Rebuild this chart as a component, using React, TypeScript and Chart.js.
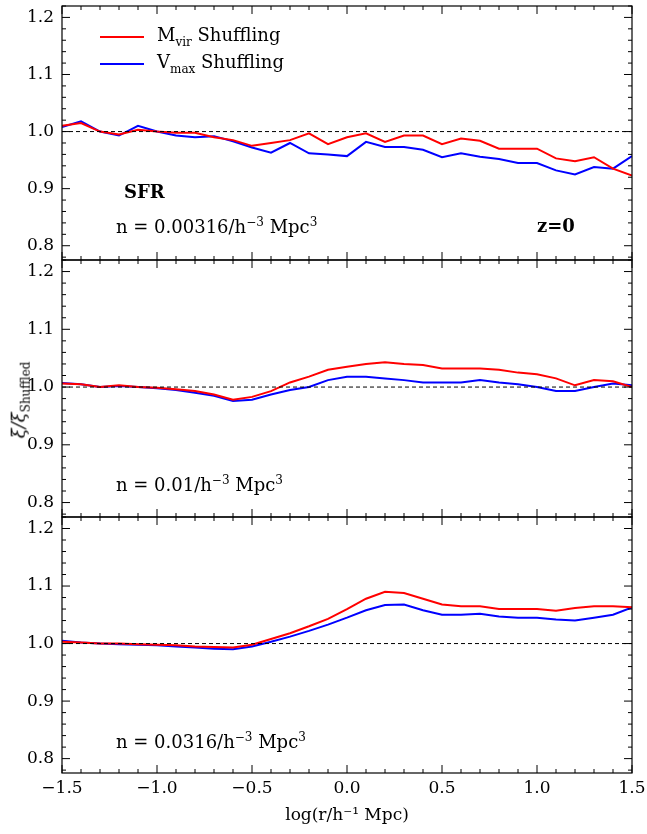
import React, { useEffect, useRef } from "react";
import Chart from "chart.js/auto";

const xs = [-1.5,-1.4,-1.3,-1.2,-1.1,-1.0,-0.9,-0.8,-0.7,-0.6,-0.5,-0.4,-0.3,-0.2,-0.1,0,0.1,0.2,0.3,0.4,0.5,0.6,0.7,0.8,0.9,1.0,1.1,1.2,1.3,1.4,1.5];

const topMvir = [1.01,1.015,1.0,0.995,1.003,1.0,0.998,0.998,0.99,0.985,0.975,0.98,0.985,0.997,0.978,0.99,0.997,0.982,0.993,0.993,0.978,0.988,0.984,0.97,0.97,0.97,0.953,0.948,0.955,0.935,0.923];
const topVmax = [1.008,1.018,1.0,0.993,1.01,1.0,0.993,0.99,0.992,0.983,0.972,0.963,0.98,0.962,0.96,0.957,0.982,0.973,0.973,0.968,0.955,0.962,0.956,0.952,0.945,0.945,0.932,0.925,0.938,0.935,0.957];
const midMvir = [1.006,1.005,1.0,1.003,1.0,0.999,0.996,0.993,0.987,0.978,0.983,0.993,1.008,1.018,1.03,1.035,1.04,1.043,1.04,1.038,1.032,1.032,1.032,1.03,1.025,1.022,1.015,1.003,1.012,1.01,1.0];
const midVmax = [1.007,1.005,1.0,1.002,1.0,0.998,0.995,0.99,0.985,0.976,0.978,0.987,0.995,1.0,1.012,1.018,1.018,1.015,1.012,1.008,1.008,1.008,1.012,1.008,1.005,1.0,0.993,0.993,1.0,1.006,1.003];
const botMvir = [1.003,1.002,1.0,1.0,0.999,0.998,0.997,0.995,0.994,0.993,0.998,1.008,1.018,1.03,1.043,1.06,1.078,1.09,1.088,1.078,1.068,1.065,1.065,1.06,1.06,1.06,1.057,1.062,1.065,1.065,1.063];
const botVmax = [1.005,1.002,1.0,0.999,0.998,0.997,0.995,0.993,0.991,0.99,0.995,1.003,1.012,1.022,1.033,1.045,1.058,1.067,1.068,1.058,1.05,1.05,1.052,1.047,1.045,1.045,1.042,1.04,1.045,1.05,1.063];

const xMajor = [-1.5, -1.0, -0.5, 0.0, 0.5, 1.0, 1.5];
const yMajor = [0.8, 0.9, 1.0, 1.1, 1.2];

const FONT = "'DejaVu Serif', serif";
const LEFT = 62;
const RIGHT = 15;

const fmt = (v: number) => (v < 0 ? "\u2212" + Math.abs(v).toFixed(1) : v.toFixed(1));

const ticksPlugin = {
  id: "inticks",
  afterDraw(chart: any) {
    const { ctx, chartArea: a, scales } = chart;
    const sx = scales.x, sy = scales.y;
    ctx.save();
    ctx.strokeStyle = "#000";
    ctx.fillStyle = "#000";
    ctx.lineWidth = 1;
    ctx.setLineDash([4, 3]);
    const y1 = sy.getPixelForValue(1);
    ctx.beginPath(); ctx.moveTo(a.left, y1); ctx.lineTo(a.right, y1); ctx.stroke();
    ctx.setLineDash([]);
    for (let i = -15; i <= 15; i++) {
      const p = sx.getPixelForValue(i / 10);
      const len = i % 5 === 0 ? 8 : 4;
      ctx.beginPath();
      ctx.moveTo(p, a.bottom); ctx.lineTo(p, a.bottom - len);
      ctx.moveTo(p, a.top); ctx.lineTo(p, a.top + len);
      ctx.stroke();
    }
    for (let i = 39; i <= 61; i++) {
      const p = sy.getPixelForValue(i / 50);
      if (p < a.top || p > a.bottom) continue;
      const len = i % 5 === 0 ? 8 : 4;
      ctx.beginPath();
      ctx.moveTo(a.left, p); ctx.lineTo(a.left + len, p);
      ctx.moveTo(a.right, p); ctx.lineTo(a.right - len, p);
      ctx.stroke();
    }
    ctx.lineWidth = 1.2;
    ctx.strokeRect(a.left, a.top, a.right - a.left, a.bottom - a.top);
    ctx.font = "17px " + FONT;
    ctx.textAlign = "right";
    ctx.textBaseline = "middle";
    yMajor.forEach((v) => ctx.fillText(v.toFixed(1), a.left - 8, sy.getPixelForValue(v)));
    if (chart.options.plugins.inticks?.bottom) {
      ctx.textAlign = "center";
      ctx.textBaseline = "top";
      xMajor.forEach((v) => ctx.fillText(fmt(v), sx.getPixelForValue(v), a.bottom + 7));
      ctx.fillText("log(r/h\u207B\u00B9 Mpc)", (a.left + a.right) / 2, a.bottom + 34);
    }
    ctx.restore();
  },
};

function Panel({ red, blue, top, height, padTop, padBottom, bottom }: any) {
  const ref = useRef<HTMLCanvasElement | null>(null);
  useEffect(() => {
    if (!ref.current) return;
    const chart = new Chart(ref.current, {
      type: "line",
      data: {
        datasets: [
          { data: xs.map((x, i) => ({ x, y: red[i] })), borderColor: "#ff0000", borderWidth: 2, pointRadius: 0, tension: 0 },
          { data: xs.map((x, i) => ({ x, y: blue[i] })), borderColor: "#0000ff", borderWidth: 2, pointRadius: 0, tension: 0 },
        ],
      },
      options: {
        animation: false,
        responsive: false,
        layout: { padding: { top: padTop, right: RIGHT, left: LEFT, bottom: padBottom } },
        plugins: { legend: { display: false }, tooltip: { enabled: false }, inticks: { bottom: !!bottom } } as any,
        scales: {
          x: { type: "linear", min: -1.5, max: 1.5, display: false },
          y: { min: 0.775, max: 1.22, display: false },
        },
      },
      plugins: [ticksPlugin],
    });
    return () => chart.destroy();
  }, []);
  return (
    <canvas ref={ref} width={647} height={height}
      style={{ position: "absolute", left: 0, top, width: 647, height }} />
  );
}

const txt: React.CSSProperties = { position: "absolute", fontFamily: FONT, fontSize: 18, color: "#000", whiteSpace: "nowrap" };

export default function App() {
  useEffect(() => { document.body.style.margin = "0"; }, []);
  return (
    <div style={{ position: "relative", width: 647, height: 834, background: "#fff" }}>
      <Panel red={topMvir} blue={topVmax} top={0} height={262} padTop={6} padBottom={2} />
      <Panel red={midMvir} blue={midVmax} top={259} height={260} padTop={1} padBottom={2} />
      <Panel red={botMvir} blue={botVmax} top={516} height={318} padTop={1} padBottom={61} bottom />
      <div style={{ position: "absolute", left: 100, top: 36, width: 44, height: 2, background: "#ff0000" }} />
      <div style={{ ...txt, left: 157, top: 24 }}>M<sub style={{ fontSize: 12 }}>vir</sub> Shuffling</div>
      <div style={{ position: "absolute", left: 100, top: 63, width: 44, height: 2, background: "#0000ff" }} />
      <div style={{ ...txt, left: 157, top: 51 }}>V<sub style={{ fontSize: 12 }}>max</sub> Shuffling</div>
      <div style={{ ...txt, left: 124, top: 181, fontWeight: "bold" }}>SFR</div>
      <div style={{ ...txt, left: 116, top: 215 }}>n = 0.00316/h<sup style={{ fontSize: 12 }}>−3</sup> Mpc<sup style={{ fontSize: 12 }}>3</sup></div>
      <div style={{ ...txt, left: 537, top: 215, fontWeight: "bold" }}>z=0</div>
      <div style={{ ...txt, left: 116, top: 473 }}>n = 0.01/h<sup style={{ fontSize: 12 }}>−3</sup> Mpc<sup style={{ fontSize: 12 }}>3</sup></div>
      <div style={{ ...txt, left: 116, top: 730 }}>n = 0.0316/h<sup style={{ fontSize: 12 }}>−3</sup> Mpc<sup style={{ fontSize: 12 }}>3</sup></div>
      <div style={{ ...txt, left: 20, top: 400, transform: "translate(-50%,-50%) rotate(-90deg)", fontStyle: "italic" }}>
        ξ/ξ<sub style={{ fontSize: 12, fontStyle: "normal" }}>Shuffled</sub>
      </div>
    </div>
  );
}
